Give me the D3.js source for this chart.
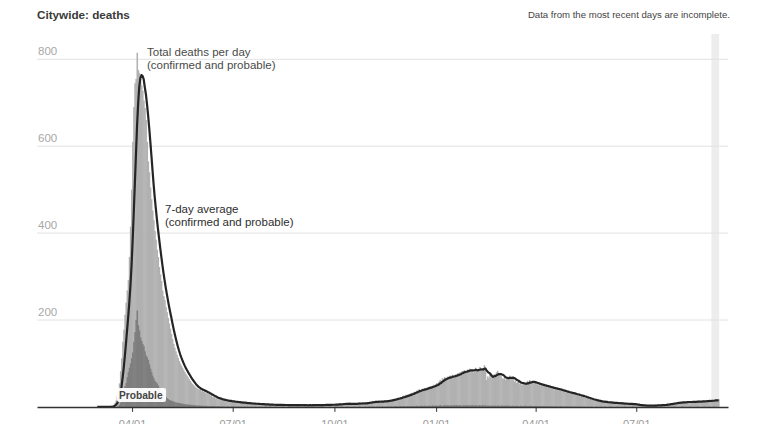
<!DOCTYPE html>
<html lang="en">
<head>
<meta charset="utf-8">
<title>Citywide: deaths</title>
<script src="https://cdnjs.cloudflare.com/ajax/libs/d3/7.8.5/d3.min.js"></script>
<style>
  body { margin: 0; background: #fff; }
  svg { display: block; font-family: "Liberation Sans", Arial, sans-serif; }
  .grid line { stroke: #e2e2e2; stroke-width: 1; }
  .grid text { fill: #a8a8a8; font-size: 11.5px; }
  .x-axis path, .x-axis line { stroke: #333; }
  .x-axis path { stroke-width: 1.5; }
  .x-axis text { fill: #999; font-size: 11px; }
  .avg { fill: none; stroke: #252525; stroke-width: 2.2; stroke-linejoin: round; }
</style>
</head>
<body>
<div id="chart"></div>
<script>
// first day of data, one value per day after it
var startDay = new Date(2020, 1, 29);

// total deaths per day (confirmed + probable)
var totalDeaths = [
  0, // feb 29
  0,0,0,0,0,0,0,0,0,0, 1,0,2,3,5,9,15,24,37,54, 82,112,150,178,212,240,268,292,345,415, 500, // mar
  610,690,745,755,815,775,768,748,740,728, 705,688,660,610,565,540,505,478,452,430, 405,385,362,345,322,305,290,268,255,246, // apr
  230,218,205,192,180,168,156,145,136,128, 120,113,106,100,95,90,85,80,76,72, 68,64,60,56,53,50,47,45,43,41, 40, // may
  41,36,39,34,37,31,33,30,29,26, 27,23,22,24,19,21,17,19,18,15, 17,14,16,15,12,15,13,11,14,12, // jun
  13,10,12,11,9,12,10,8,11,9, 10,8,9,7,9,8,6,9,7,8, 6,7,8,5,7,6,7,5,6,6, 5, // jul
  6,5,4,6,5,5,4,6,3,5, 4,5,6,4,3,5,4,4,5,3, 4,5,4,3,5,4,4,3,5,4, 4, // aug
  3,4,5,3,4,4,3,5,4,3, 5,4,4,6,3,4,5,4,5,3, 6,4,5,5,4,6,5,4,6,5, // sep
  5,7,4,6,8,5,6,7,9,6, 8,7,6,9,5,7,8,6,7,9, 8,7,10,6,8,9,7,10,8,9, 11, // oct
  10,12,9,13,11,12,14,10,13,12, 11,14,12,13,15,11,14,16,13,17, 15,18,16,19,17,20,22,19,23,21, // nov
  24,26,23,28,25,29,27,31,30,33, 32,35,34,38,36,41,39,37,42,40, 43,41,45,44,47,43,48,46,51,49, 52, // dec
  55,51,58,62,59,66,64,69,63,67, 70,66,72,69,74,71,68,75,73,78, 76,80,77,83,79,85,82,80,86,84, 88, // jan 2021
  82,87,79,85,90,84,81,88,92,85, 83,89,96,86,62,70,66,74,68,72, 70,75,69,80,83,78,74,71, // feb
  66,64,68,62,65,70,67,72,64,68, 66,58,61,55,57,59,52,56,50,55, 53,51,54,60,56,62,55,59,57,54, 56, // mar
  52,55,50,53,49,51,48,50,46,49, 45,47,43,46,42,44,41,43,40,42, 38,40,37,39,36,35,37,33,34,32, // apr
  33,31,30,32,29,30,28,27,26,28, 24,25,23,24,21,22,20,19,18,19, 17,16,15,16,14,13,14,12,13,11, 12, // may
  11,12,10,11,9,10,11,9,10,8, 9,10,8,9,7,8,9,7,8,6, 8,7,6,7,8,6,7,5,6,5, // jun
  5,4,4,3,4,3,2,4,3,3, 2,4,3,3,4,2,3,4,3,5, 4,3,4,5,4,5,6,5,7,6, 7, // jul
  8,7,9,8,10,9,11,10,9,11, 10,12,11,10,12,11,13,10,12,11, 13,12,11,13,12,14,11,13,12,14, 13, // aug
  13,15,12,14,15,13,16,14,15,17, 14,16,18 // sep 1-13
];

// probable deaths per day (part of the total)
var probableDeaths = [
  0, // feb 29
  0,0,0,0,0,0,0,0,0,0, 0,0,0,0,0,0,0,0,2,5, 10,18,28,40,48,55,68,80,90,100, 112, // mar
  125,150,172,200,222,188,176,160,152,145, 140,128,118,114,108,98,88,80,72,66, 60,57,54,49,44,38,34,30,27,24, // apr
  22,20,18,16,15,14,13,12,11,10, 10,9,9,8,8,7,7,6,6,6, 5,5,5,4,4,4,4,3,3,3, 3, // may
  3,2,3,2,2,3,2,2,2,1, 2,2,1,2,1,1,2,1,1,1, 1,1,1,0,1,1,1,0,1,1, // jun
  1,0,1,0,1,1,0,1,0,0, 1,0,0,1,0,0,1,0,0,0, 1,0,0,0,1,0,0,0,0,1, 0, // jul
  0,0,1,0,0,0,0,1,0,0, 0,0,0,1,0,0,0,0,0,0, 1,0,0,0,0,0,0,1,0,0, 0, // aug
  0,0,0,1,0,0,0,0,0,0, 1,0,0,0,0,0,0,0,1,0, 0,0,0,0,0,1,0,0,0,0, // sep
  0,1,0,0,0,0,1,0,0,0, 0,1,0,0,0,0,0,1,0,0, 0,0,1,0,0,0,0,1,0,0, 1, // oct
  1,0,1,0,1,0,0,1,0,1, 0,1,1,0,1,0,1,1,0,1, 1,0,1,1,2,1,0,1,2,1, // nov
  1,2,1,1,2,1,2,1,2,2, 1,2,2,3,1,2,2,3,2,2, 3,2,2,3,2,3,2,3,3,2, 3, // dec
  3,2,3,4,3,2,3,4,3,3, 4,3,2,4,3,3,4,3,4,3, 3,4,3,2,4,3,3,4,3,3, 4, // jan 2021
  3,4,3,3,4,3,2,4,3,3, 4,3,3,4,2,3,3,2,3,3, 2,3,3,2,3,3,2,3, // feb
  3,2,3,2,3,3,2,3,2,2, 3,2,2,3,2,2,2,3,2,2, 2,3,2,2,2,2,3,2,2,2, 2, // mar
  2,2,1,2,2,1,2,2,1,2, 1,2,1,1,2,1,1,2,1,1, 1,1,2,1,1,1,1,1,1,1, // apr
  1,1,1,0,1,1,0,1,1,0, 1,0,1,0,1,0,0,1,0,0, 1,0,0,0,1,0,0,0,1,0, 0, // may
  0,1,0,0,0,0,1,0,0,0, 0,0,1,0,0,0,0,0,0,1, 0,0,0,0,0,0,1,0,0,0, // jun
  0,0,0,0,1,0,0,0,0,0, 0,0,0,0,0,0,1,0,0,0, 0,0,0,0,0,0,0,0,1,0, 0, // jul
  0,0,0,1,0,0,0,0,0,0, 1,0,0,0,0,0,0,1,0,0, 0,0,0,0,1,0,0,0,0,0, 1, // aug
  0,0,0,1,0,0,0,0,1,0, 0,0,0 // sep 1-13
];

var yTicks = [200, 400, 600, 800];
var xTickDates = ["2020-04-01", "2020-07-01", "2020-10-01", "2021-01-01", "2021-04-01", "2021-07-01"];
var incompleteDays = 7;

var width = 761, height = 424;
var parse = d3.timeParse("%Y-%m-%d");

var data = totalDeaths.map(function (v, i) {
  var win = totalDeaths.slice(Math.max(0, i - 6), i + 1);
  return {
    date: d3.timeDay.offset(startDay, i),
    total: v,
    probable: probableDeaths[i],
    avg: d3.mean(win)
  };
});

var x = d3.scaleTime()
  .domain([new Date(2020, 0, 6), new Date(2021, 8, 22)])
  .range([37, 728]);

var y = d3.scaleLinear()
  .domain([0, 800])
  .range([406.9, 59.3]);

var svg = d3.select("#chart").append("svg")
  .attr("width", width)
  .attr("height", height);

function dayEnd(d) { return d3.timeDay.offset(d, 1); }
// bars overlap a little so no seams show between them
function barW(d) { return x(dayEnd(d.date)) - x(d.date) + 0.45; }

// shaded band for the incomplete days
var lastDays = data.slice(-incompleteDays);
svg.append("rect")
  .attr("x", x(lastDays[0].date))
  .attr("y", 34)
  .attr("width", x(dayEnd(lastDays[lastDays.length - 1].date)) - x(lastDays[0].date))
  .attr("height", y(0) - 34)
  .attr("fill", "#ededed");

// gridlines with labels sitting above them
var grid = svg.append("g").attr("class", "grid");
var gl = grid.selectAll("g").data(yTicks).join("g")
  .attr("transform", function (d) { return "translate(0," + y(d) + ")"; });
gl.append("line").attr("x1", 37).attr("x2", 728);
gl.append("text").attr("x", 38).attr("y", -4).text(function (d) { return d; });

// daily bars
svg.append("g").selectAll("rect").data(data).join("rect")
  .attr("x", function (d) { return x(d.date); })
  .attr("width", barW)
  .attr("y", function (d) { return y(d.total); })
  .attr("height", function (d) { return y(0) - y(d.total); })
  .attr("fill", "#b1b1b1");

svg.append("g").selectAll("rect").data(data.filter(function (d) { return d.probable > 0; })).join("rect")
  .attr("x", function (d) { return x(d.date); })
  .attr("width", barW)
  .attr("y", function (d) { return y(d.probable); })
  .attr("height", function (d) { return y(0) - y(d.probable); })
  .attr("fill", "#7e7e7e");

// 7-day average
var line = d3.line()
  .x(function (d) { return (x(d.date) + x(dayEnd(d.date))) / 2; })
  .y(function (d) { return y(d.avg); });

svg.append("path").datum(data).attr("class", "avg").attr("d", line);

// x axis
svg.append("g")
  .attr("class", "x-axis")
  .attr("transform", "translate(0," + y(0) + ")")
  .call(d3.axisBottom(x)
    .tickValues(xTickDates.map(parse))
    .tickFormat(d3.timeFormat("%m/%d"))
    .tickSize(5)
    .tickSizeOuter(0)
    .tickPadding(8));

// titles and annotations
svg.append("text")
  .attr("x", 37).attr("y", 19)
  .attr("fill", "#3a3a3a")
  .style("font-size", "11.7px").style("font-weight", "bold")
  .text("Citywide: deaths");

svg.append("text")
  .attr("x", 730).attr("y", 18)
  .attr("text-anchor", "end")
  .attr("fill", "#444")
  .style("font-size", "9.6px")
  .text("Data from the most recent days are incomplete.");

function label(xp, yp, lines, color) {
  var t = svg.append("text")
    .attr("x", xp).attr("y", yp)
    .attr("fill", color)
    .style("font-size", "11.5px");
  lines.forEach(function (s, i) {
    t.append("tspan").attr("x", xp).attr("dy", i ? 13.2 : 0).text(s);
  });
}
label(147, 56, ["Total deaths per day", "(confirmed and probable)"], "#4a4a4a");
label(165, 213, ["7-day average", "(confirmed and probable)"], "#2e2e2e");

var pg = svg.append("g").attr("transform", "translate(117,388)");
pg.append("rect")
  .attr("width", 49).attr("height", 14).attr("rx", 2)
  .attr("fill", "#fff").attr("opacity", 0.95);
pg.append("text")
  .attr("x", 2).attr("y", 11)
  .attr("fill", "#444")
  .style("font-size", "10.2px").style("font-weight", "bold")
  .text("Probable");
</script>
</body>
</html>
